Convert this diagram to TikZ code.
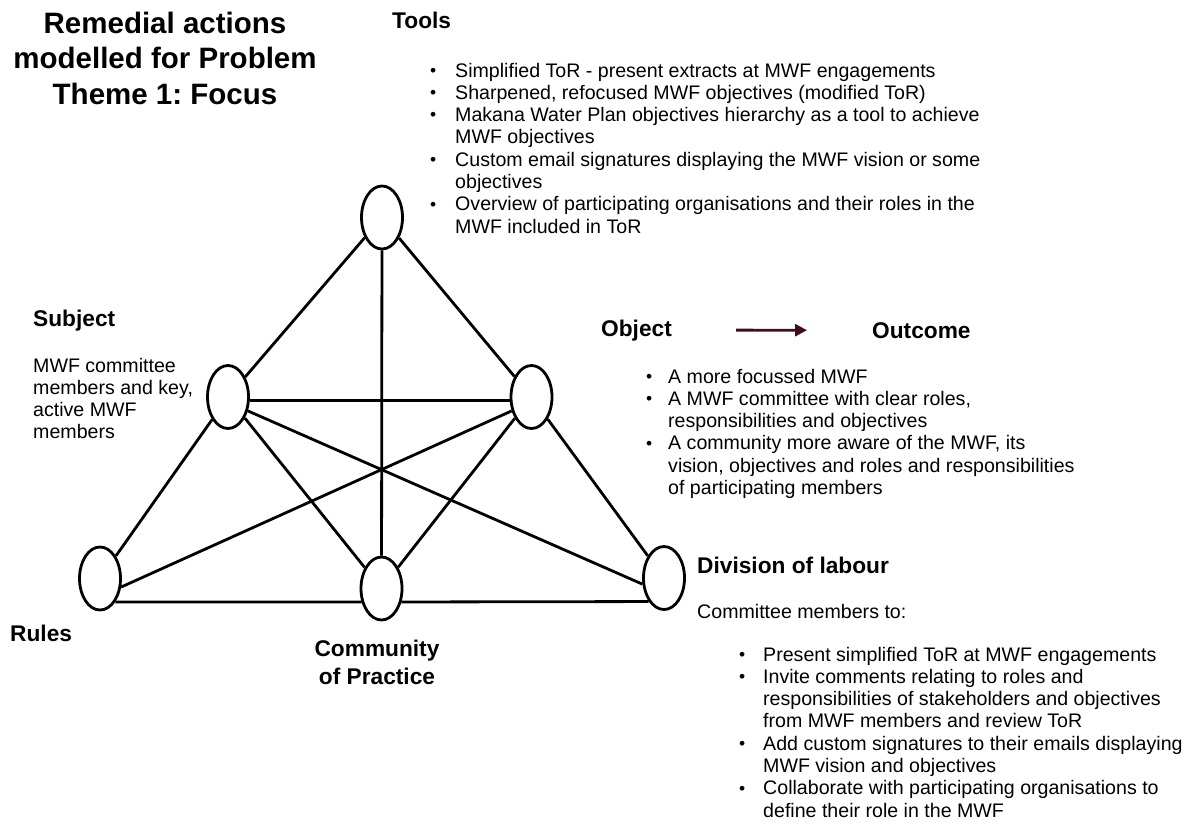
\documentclass[tikz,border=0pt]{standalone}
\usepackage{fontspec}
\setmainfont{Liberation Sans}
\usetikzlibrary{shapes.geometric,arrows.meta}
\definecolor{arrowmaroon}{HTML}{3D0C22}
\frenchspacing

% type sizes (1pt = one unit of the canvas)
\newcommand{\bodyfont}{\fontsize{19.6}{22.3}\selectfont}
\newcommand{\headfont}{\fontsize{22.7}{28}\selectfont\bfseries}
\newcommand{\titlefont}{\fontsize{29.5}{35.5}\selectfont\bfseries}
% small list bullet
\newcommand{\dotmark}{\raisebox{0.8pt}{\fontsize{17.5}{17.5}\selectfont\textbullet}}

\begin{document}
\begin{tikzpicture}[x=1pt,y=-1pt,
  actor/.style={ellipse,draw,line width=2.8pt,minimum width=41pt,
                minimum height=63pt,inner sep=0pt},
  link/.style={line width=2.8pt},
  heading/.style={anchor=base west,inner sep=0pt,font=\headfont},
  body/.style={anchor=base west,inner sep=0pt,font=\bodyfont},
  blist/.style={anchor=base west,inner sep=0pt,font=\bodyfont},
]
\useasboundingbox (0,0) rectangle (1194,825);

% ---- activity system triangle ----
\node[actor] (tools) at (382,217.5) {};
\node[actor] (subj)  at (228,397)   {};
\node[actor] (obj)   at (531.5,397) {};
\node[actor] (rules) at (100,578.5) {};
\node[actor] (comm)  at (381.5,588.5) {};
\node[actor] (div)   at (664,578)   {};

\draw[link] (tools) -- (subj);
\draw[link] (tools) -- (obj);
\draw[link] (tools) -- (comm);
\draw[link] (subj.-10) -- (obj.-170);
\draw[link] (subj) -- (rules);
\draw[link] (obj) -- (div);
\draw[link] (subj) -- (comm);
\draw[link] (obj) -- (comm);
\draw[link] (subj.-35) -- (div.-164);
\draw[link] (rules.-22) -- (obj.-145);
\draw[link] (rules.-57) -- (comm.-146);
\draw[link] (comm.-34) -- (div.-123);

% ---- title ----
\node[anchor=base,inner sep=0pt,font=\titlefont] (title) at (165,33)
  {\begin{tabular}[t]{@{}c@{}}Remedial actions\\modelled for Problem\\Theme 1: Focus\end{tabular}};

% ---- tools ----
\node[heading] (toolshead) at (392,28) {Tools};
\node[blist] (toolslist) at (430,77) {\begin{tabular}[t]{@{}p{25pt}@{}l@{}}
\dotmark & Simplified ToR - present extracts at MWF engagements\\
\dotmark & Sharpened, refocused MWF objectives (modified ToR)\\
\dotmark & Makana Water Plan objectives hierarchy as a tool to achieve\\
         & MWF objectives\\
\dotmark & Custom email signatures displaying the MWF vision or some\\
         & objectives\\
\dotmark & Overview of participating organisations and their roles in the\\
         & MWF included in ToR
\end{tabular}};

% ---- subject ----
\node[heading] (subjhead) at (33,326) {Subject};
\node[body] (subjtext) at (33,372) {\begin{tabular}[t]{@{}l@{}}
MWF committee\\members and key,\\active MWF\\members\end{tabular}};

% ---- object and outcome ----
\node[heading] (objhead) at (601,336) {Object};
\node[heading] (outhead) at (872,338) {Outcome};
\draw[link,color=arrowmaroon,-{Triangle[length=12pt,width=12pt]}]
  ([xshift=64pt]objhead.east) -- ([xshift=-65pt]outhead.west);
\node[blist] (objlist) at (646,383) {\begin{tabular}[t]{@{}p{22pt}@{}l@{}}
\dotmark & A more focussed MWF\\
\dotmark & A MWF committee with clear roles,\\
         & responsibilities and objectives\\
\dotmark & A community more aware of the MWF, its\\
         & vision, objectives and roles and responsibilities\\
         & of participating members
\end{tabular}};

% ---- rules and community ----
\node[heading] (ruleshead) at (10,641) {Rules};
\node[anchor=base,inner sep=0pt,font=\headfont] (commhead) at (377,656)
  {\begin{tabular}[t]{@{}c@{}}Community\\of Practice\end{tabular}};

% ---- division of labour ----
\node[heading] (divhead) at (697,573) {Division of labour};
\node[body] (divintro) at (697,618) {Committee members to:};
\node[blist] (divlist) at (739,661) {\begin{tabular}[t]{@{}p{24pt}@{}l@{}}
\dotmark & Present simplified ToR at MWF engagements\\
\dotmark & Invite comments relating to roles and\\
         & responsibilities of stakeholders and objectives\\
         & from MWF members and review ToR\\
\dotmark & Add custom signatures to their emails displaying\\
         & MWF vision and objectives\\
\dotmark & Collaborate with participating organisations to\\
         & define their role in the MWF
\end{tabular}};
\end{tikzpicture}
\end{document}
